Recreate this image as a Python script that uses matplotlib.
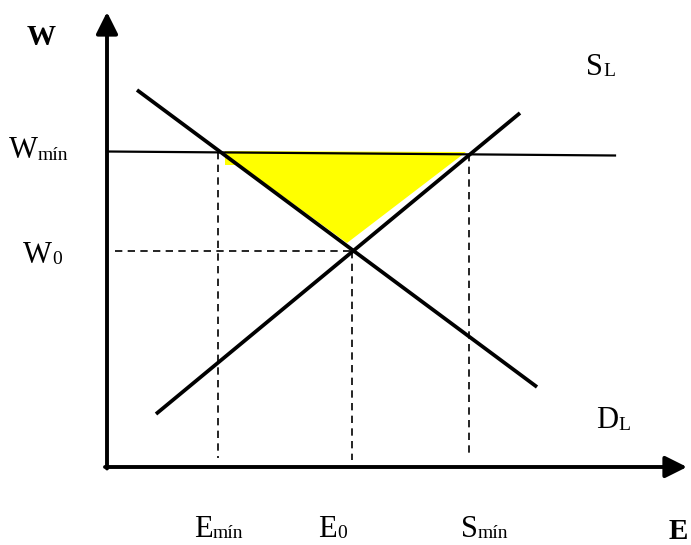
import numpy as np
import matplotlib
matplotlib.use('Agg')
import matplotlib.pyplot as plt

# --- data (units: offset from the origin of the axes) ---
demand_x = [30, 430]
demand_y = [377, 80]
supply_x = [49, 413]
supply_y = [53, 354]
wmin_x = [0, 508]
wmin_y = [315.5, 311.5]

w0 = 216
e0 = 245
e_min = 111
s_min = 362

# yellow area (excess supply) between the curves above W0
area_x = [118, 359, 240, 133, 118]
area_y = [316, 315, 224, 302, 302]

FONT = 'Liberation Serif'
MAIN = 22
SUB = 14

fig = plt.figure(figsize=(6.91, 5.45), dpi=100)
ax = fig.add_axes([0, 0, 1, 1])
ax.set_xlim(-107, 584)
ax.set_ylim(-78, 467)
ax.axis('off')

ax.fill(area_x, area_y, color='#FFFF00', lw=0, zorder=1)

# axes with arrows
arrow = dict(arrowstyle='-|>,head_length=1.1,head_width=0.55', mutation_scale=12,
             lw=2.8, color='black', shrinkA=0, shrinkB=0)
ax.annotate('', xy=(0, 455), xytext=(0, -1.5), arrowprops=arrow, zorder=5)
ax.annotate('', xy=(580, 0), xytext=(-2, 0), arrowprops=arrow, zorder=5)

# curves
ax.plot(demand_x, demand_y, color='black', lw=2.7, solid_capstyle='butt', zorder=3)
ax.plot(supply_x, supply_y, color='black', lw=2.7, solid_capstyle='butt', zorder=3)
ax.plot(wmin_x, wmin_y, color='black', lw=1.6, zorder=3)

# guide lines
wm_emin = np.interp(e_min, wmin_x, wmin_y)
wm_smin = np.interp(s_min, wmin_x, wmin_y)
dash = dict(color='black', lw=1.2, linestyle=(0, (4.4, 3.2)), zorder=2)
ax.plot([8, e0], [w0, w0], **dash)
ax.plot([e_min, e_min], [wm_emin, 9], **dash)
ax.plot([e0, e0], [w0, 7], **dash)
ax.plot([s_min, s_min], [wm_smin, 10], **dash)

# labels
def label(x, y, main, sub, dy=-1.5):
    ax.text(x, y, main, ha='right', va='baseline', family=FONT, fontsize=MAIN)
    ax.text(x, y + dy, sub, ha='left', va='baseline', family=FONT, fontsize=SUB)

ax.text(-66, 422, 'W', ha='center', va='baseline', family=FONT,
        fontsize=21, fontweight='bold')
ax.text(562, -72, 'E', ha='left', va='baseline', family=FONT,
        fontsize=21, fontweight='bold')

label(-69, 309, 'W', 'mín')
label(-55, 204, 'W', '0')
label(496, 392, 'S', 'L')
label(511, 39, 'D', 'L')
label(106, -70, 'E', 'mín')
label(230, -70, 'E', '0')
label(371, -70, 'S', 'mín')

fig.savefig('out.png', dpi=100)
